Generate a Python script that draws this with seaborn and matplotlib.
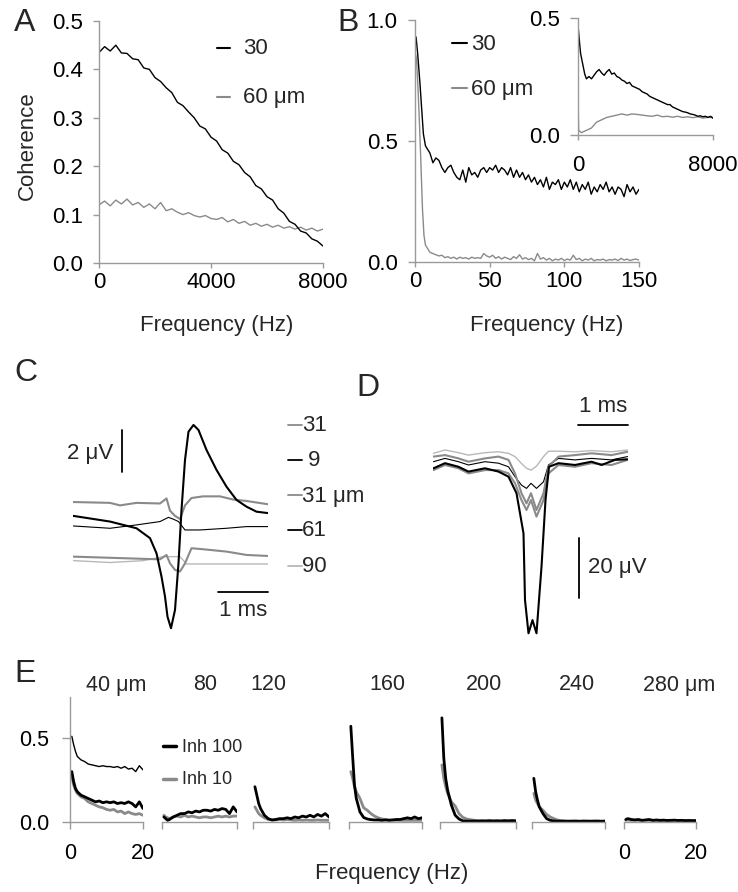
import numpy as np
import matplotlib
matplotlib.use("Agg")
import matplotlib.pyplot as plt
from matplotlib.lines import Line2D
from matplotlib.ticker import FormatStrFormatter
import seaborn as sns

sns.set_style("ticks")
plt.rcParams["font.family"] = ["Liberation Sans", "DejaVu Sans"]

# ---- data ----

# A: coherence vs frequency, 30 and 60 um
a_freq = np.arange(0, 8001, 200)
a_30 = [0.435, 0.447, 0.438, 0.45, 0.434, 0.433, 0.422, 0.42, 0.403, 0.4,
        0.383, 0.375, 0.362, 0.352, 0.332, 0.325, 0.312, 0.3, 0.283, 0.277,
        0.26, 0.252, 0.234, 0.227, 0.21, 0.203, 0.187, 0.178, 0.16, 0.153,
        0.137, 0.13, 0.112, 0.103, 0.086, 0.08, 0.066, 0.062, 0.05, 0.045, 0.035]
a_60 = [0.12, 0.128, 0.118, 0.13, 0.122, 0.132, 0.12, 0.125, 0.115, 0.122,
        0.112, 0.125, 0.108, 0.112, 0.105, 0.1, 0.104, 0.098, 0.095, 0.098,
        0.092, 0.09, 0.094, 0.085, 0.09, 0.082, 0.086, 0.078, 0.082, 0.076,
        0.08, 0.074, 0.078, 0.072, 0.075, 0.07, 0.074, 0.068, 0.072, 0.066, 0.07]

# B: low-frequency coherence
b_freq_30 = [0.7, 1.8, 3.3, 4.5, 5.6, 7] + list(range(10, 151, 2))
b_30 = [0.93, 0.86, 0.74, 0.63, 0.53, 0.48,
        0.45, 0.41, 0.43, 0.42, 0.39, 0.37, 0.39, 0.40, 0.37, 0.35,
        0.34, 0.38, 0.33, 0.39, 0.36, 0.37, 0.35, 0.38, 0.39, 0.37,
        0.39, 0.38, 0.40, 0.37, 0.39, 0.38, 0.36, 0.39, 0.35, 0.38,
        0.35, 0.37, 0.34, 0.36, 0.33, 0.35, 0.32, 0.34, 0.31, 0.35,
        0.30, 0.33, 0.32, 0.34, 0.30, 0.33, 0.31, 0.34, 0.30, 0.33,
        0.29, 0.32, 0.30, 0.33, 0.28, 0.31, 0.29, 0.32, 0.30, 0.33,
        0.29, 0.31, 0.28, 0.31, 0.30, 0.27, 0.32, 0.29, 0.31, 0.28, 0.30]
b_freq_60 = [0.3, 1, 2, 3, 4, 5, 6, 7, 8] + list(range(10, 151, 2))
b_60 = [0.86, 0.84, 0.72, 0.57, 0.4, 0.22, 0.11, 0.07, 0.06,
        0.04, 0.035, 0.03, 0.025, 0.028, 0.018, 0.022, 0.015, 0.02, 0.012,
        0.02, 0.015, 0.018, 0.012, 0.02, 0.015, 0.018, 0.015, 0.035, 0.025,
        0.02, 0.028, 0.015, 0.022, 0.012, 0.02, 0.015, 0.01, 0.022, 0.015,
        0.03, 0.012, 0.018, 0.01, 0.015, 0.005, 0.035, 0.012, 0.018, 0.008,
        0.015, 0.005, 0.012, 0.008, 0.015, 0.006, 0.012, 0.008, 0.028, 0.01,
        0.015, 0.005, 0.012, 0.008, 0.015, 0.005, 0.01, 0.008, 0.012, 0.005,
        0.01, 0.008, 0.012, 0.006, 0.015, 0.008, 0.012, 0.006, 0.01, 0.012, 0.008]

# B inset: full band
inset_freq_30 = [0, 60, 150, 260, 400, 500] + list(range(650, 8001, 150))
inset_30 = [0.47, 0.42, 0.35, 0.31, 0.26, 0.24,
            0.25, 0.24, 0.255, 0.27, 0.28, 0.265, 0.255, 0.27, 0.28, 0.26,
            0.265, 0.25, 0.245, 0.235, 0.23, 0.22, 0.225, 0.21, 0.205, 0.2,
            0.195, 0.185, 0.18, 0.175, 0.165, 0.16, 0.155, 0.15, 0.145, 0.14,
            0.135, 0.13, 0.13, 0.12, 0.115, 0.11, 0.105, 0.1, 0.098, 0.095,
            0.09, 0.088, 0.085, 0.08, 0.082, 0.078, 0.08, 0.075, 0.08, 0.072]
inset_freq_60 = [0, 40, 200, 500, 800] + list(range(1100, 8001, 300))
inset_60 = [0.15, 0.02, 0.01, 0.02, 0.03,
            0.055, 0.065, 0.075, 0.08, 0.085, 0.09, 0.085, 0.09, 0.088, 0.085,
            0.082, 0.08, 0.085, 0.078, 0.08, 0.076, 0.08, 0.075, 0.078, 0.074,
            0.078, 0.072, 0.076, 0.074]

# C: spike-triggered averages (ms, uV) at five distances
c_labels = ["31", " 9", "31 \u03bcm", "61", "90"]
c_t_9 = [0.006, 0.74, 1.27, 1.54, 1.67, 1.77, 1.84, 1.89, 1.96, 2.04, 2.11,
         2.17, 2.24, 2.31, 2.41, 2.51, 2.67, 2.87, 3.07, 3.27, 3.47, 3.67, 3.91]
c_v_9 = [0.05, -0.22, -0.54, -1.01, -1.73, -2.84, -3.79, -4.75, -5.30, -4.43, -2.20,
         0.33, 2.71, 4.06, 4.38, 4.14, 3.19, 2.24, 1.44, 0.81, 0.49, 0.25, 0.18]
c_t_31a = [0.006, 0.74, 0.94, 1.27, 1.74, 1.87, 1.94, 2.04, 2.14, 2.24, 2.37,
           2.6, 2.94, 3.2, 3.47, 3.91]
c_v_31a = [0.71, 0.67, 0.55, 0.67, 0.64, 0.88, 0.3, 0.05, -0.1, 0.55, 0.9,
           0.98, 0.98, 0.83, 0.76, 0.6]
c_t_61 = [0.006, 0.74, 1.27, 1.74, 1.91, 2.01, 2.11, 2.24, 2.54, 3.07, 3.47, 3.91]
c_v_61 = [-0.43, -0.54, -0.38, -0.22, -0.02, -0.11, -0.22, -0.62, -0.62, -0.54, -0.46, -0.46]
c_t_31b = [0.006, 1.07, 1.74, 1.87, 1.94, 2.04, 2.14, 2.24, 2.37, 2.61, 3.07, 3.47, 3.91]
c_v_31b = [-1.89, -1.97, -2.02, -1.81, -2.21, -2.52, -2.6, -2.21, -1.49, -1.54, -1.65, -1.81, -1.86]
c_t_90 = [0.006, 0.74, 1.41, 1.81, 2.14, 2.27, 2.74, 3.91]
c_v_90 = [-2.08, -2.17, -2.08, -1.89, -1.89, -2.24, -2.24, -2.24]

# D: extracellular spikes (ms, uV)
d_t_big = [0.01, 0.24, 0.51, 0.71, 1.04, 1.31, 1.51, 1.67, 1.81, 1.84, 1.91,
           1.99, 2.07, 2.17, 2.25, 2.32, 2.51, 2.84, 3.17, 3.37, 3.64, 3.89]
d_v_big = [-0.1, 1.6, 0.4, -1.2, -0.1, -1.2, -2.9, -8.4, -21.8, -44, -55.1,
           -50.7, -55.1, -32.9, -10.7, 0.4, 1.6, 1.0, 2.1, 1.0, 2.7, 2.9]
d_t = [0.01, 0.24, 0.51, 0.71, 1.04, 1.31, 1.51, 1.64, 1.77, 1.87, 1.96,
       2.07, 2.21, 2.31, 2.51, 2.84, 3.17, 3.57, 3.89]
d_v_gray1 = [-0.7, 1.0, -0.1, -1.8, -0.7, -0.7, -1.8, -5.1, -10.7, -14, -10.7,
             -16.2, -10.7, -1.8, 1.0, 0.4, 1.6, 1.0, 2.7]
d_v_gray2 = [3.8, 4.3, 3.2, 2.1, 3.2, 3.8, 2.7, -1.8, -8.4, -11.8, -8.4,
             -14, -8.4, 0.4, 3.8, 4.3, 4.9, 4.3, 5.4]
d_v_thin = [2.1, 3.2, 2.1, 1.0, 2.1, 1.6, 0.4, -2.9, -5.7, -6.8, -5.1,
            -6.8, -4.6, 1.0, 3.2, 2.7, 3.2, 2.7, 3.8]
d_v_light = [4.9, 6, 5.1, 4.3, 5.1, 5.4, 4.9, 3.8, 1.5, -0.1, -0.7,
             0.6, 3.8, 5.6, 5.6, 5.4, 5.8, 5.4, 6]

# E: coherence vs distance, Inh 100 / Inh 10
e_titles = ["40 \u03bcm", "80", "120", "160", "200", "240", "280 \u03bcm"]
e_freq = [0.5, 1, 1.5, 2, 3, 4, 5, 6, 7, 8, 9, 10, 11, 12, 13, 14, 15, 16, 17, 18, 19, 20]
e_thin_40 = [0.51, 0.46, 0.42, 0.39, 0.37, 0.36, 0.345, 0.34, 0.335, 0.33, 0.335,
             0.33, 0.33, 0.325, 0.33, 0.32, 0.33, 0.315, 0.32, 0.30, 0.335, 0.31]
e_inh100 = [
    [0.3, 0.24, 0.2, 0.18, 0.16, 0.15, 0.14, 0.13, 0.12, 0.125, 0.115,
     0.12, 0.115, 0.12, 0.11, 0.115, 0.11, 0.12, 0.11, 0.09, 0.12, 0.08],
    [0.03, 0.02, 0.01, 0.015, 0.03, 0.04, 0.05, 0.05, 0.06, 0.055, 0.065,
     0.06, 0.07, 0.07, 0.065, 0.075, 0.07, 0.08, 0.075, 0.05, 0.09, 0.06],
    [0.21, 0.16, 0.11, 0.08, 0.04, 0.02, 0.012, 0.015, 0.02, 0.02, 0.025,
     0.02, 0.03, 0.025, 0.035, 0.03, 0.04, 0.03, 0.045, 0.035, 0.05, 0.03],
    [0.57, 0.39, 0.22, 0.14, 0.06, 0.027, 0.018, 0.014, 0.012, 0.012, 0.01,
     0.012, 0.01, 0.012, 0.015, 0.015, 0.02, 0.025, 0.02, 0.03, 0.02, 0.025],
    [0.62, 0.38, 0.26, 0.19, 0.1, 0.04, 0.018, 0.007, 0.005, 0.005, 0.006,
     0.005, 0.006, 0.005, 0.007, 0.005, 0.006, 0.005, 0.007, 0.006, 0.008, 0.006],
    [0.26, 0.18, 0.13, 0.09, 0.05, 0.02, 0.01, 0.006, 0.005, 0.005, 0.005,
     0.004, 0.005, 0.005, 0.004, 0.005, 0.005, 0.004, 0.005, 0.005, 0.004, 0.005],
    [0.015, 0.02, 0.018, 0.015, 0.012, 0.015, 0.01, 0.012, 0.015, 0.01, 0.012,
     0.01, 0.011, 0.009, 0.01, 0.011, 0.009, 0.01, 0.008, 0.009, 0.008, 0.008],
]
e_inh10 = [
    [0.27, 0.22, 0.19, 0.17, 0.15, 0.14, 0.12, 0.11, 0.1, 0.09, 0.085,
     0.075, 0.07, 0.075, 0.06, 0.065, 0.05, 0.06, 0.05, 0.045, 0.05, 0.04],
    [0.04, 0.03, 0.025, 0.02, 0.03, 0.035, 0.03, 0.04, 0.03, 0.035, 0.03,
     0.025, 0.03, 0.03, 0.025, 0.03, 0.035, 0.03, 0.035, 0.03, 0.035, 0.035],
    [0.09, 0.07, 0.05, 0.04, 0.025, 0.015, 0.012, 0.012, 0.015, 0.012, 0.015,
     0.012, 0.01, 0.012, 0.01, 0.012, 0.01, 0.01, 0.012, 0.01, 0.01, 0.01],
    [0.3, 0.26, 0.21, 0.18, 0.14, 0.085, 0.07, 0.05, 0.035, 0.025, 0.018,
     0.015, 0.012, 0.012, 0.01, 0.01, 0.01, 0.01, 0.01, 0.01, 0.01, 0.01],
    [0.34, 0.26, 0.21, 0.17, 0.12, 0.095, 0.05, 0.028, 0.018, 0.014, 0.01,
     0.008, 0.008, 0.009, 0.008, 0.008, 0.009, 0.008, 0.01, 0.008, 0.009, 0.008],
    [0.17, 0.13, 0.11, 0.09, 0.07, 0.045, 0.03, 0.02, 0.012, 0.008, 0.006,
     0.006, 0.005, 0.006, 0.005, 0.006, 0.005, 0.006, 0.005, 0.006, 0.005, 0.006],
    [0.01, 0.012, 0.011, 0.01, 0.012, 0.01, 0.009, 0.011, 0.01, 0.009, 0.01,
     0.008, 0.01, 0.009, 0.008, 0.01, 0.009, 0.008, 0.009, 0.008, 0.009, 0.008],
]

# ---- styles ----
BLACK = "black"
GRAY = "#8a8a8a"
LIGHT = "#b8b8b8"
AXC = "#9a9a9a"
FS = 16

W, H = 738, 892
fig = plt.figure(figsize=(W / 100, H / 100), dpi=100)


def frame(x0, y0, x1, y1):
    return fig.add_axes([x0 / W, 1 - y1 / H, (x1 - x0) / W, (y1 - y0) / H])


def ftext(px, py, s, **kw):
    kw.setdefault("fontsize", FS)
    kw.setdefault("va", "center")
    fig.text(px / W, 1 - py / H, s, **kw)


def fdash(x0, x1, py, color, lw=1.5):
    fig.add_artist(Line2D([x0 / W, x1 / W], [1 - py / H] * 2, color=color, lw=lw))


def trace(ax, x, y, color, lw):
    sns.lineplot(x=np.asarray(x, float), y=np.asarray(y, float), ax=ax, color=color,
                 linewidth=lw, estimator=None, sort=False, legend=False)


def style_axes(ax, ylen=4.3, xlen=3.6, ypad=7, xpad=3.2, fs=FS):
    sns.despine(ax=ax)
    for s in ("left", "bottom"):
        ax.spines[s].set_color(AXC)
        ax.spines[s].set_linewidth(1.0)
    ax.tick_params(axis="y", colors=AXC, labelcolor="black", labelsize=fs,
                   length=ylen, width=1, pad=ypad)
    ax.tick_params(axis="x", colors=AXC, labelcolor="black", labelsize=fs,
                   length=xlen, width=1, pad=xpad)
    ax.set_xlabel("")
    ax.set_ylabel("")


# ---- panel A ----
axA = frame(99, 21, 323, 263)
trace(axA, a_freq, a_60, GRAY, 1.0)
trace(axA, a_freq, a_30, BLACK, 1.0)
axA.set_xlim(0, 8000)
axA.set_ylim(0, 0.5)
axA.set_xticks([0, 4000, 8000])
axA.set_yticks([0, 0.1, 0.2, 0.3, 0.4, 0.5])
axA.yaxis.set_major_formatter(FormatStrFormatter("%.1f"))
style_axes(axA)
ftext(217, 326, "Frequency (Hz)", ha="center")
ftext(27, 146, "Coherence", ha="center", rotation=90)
fdash(217, 230, 48, BLACK)
ftext(243, 49, "30")
fdash(217, 230, 97, GRAY)
ftext(243, 98, "60 \u03bcm")

# ---- panel B ----
axB = frame(415, 20, 639, 262)
trace(axB, b_freq_60, b_60, GRAY, 1.0)
trace(axB, b_freq_30, b_30, BLACK, 1.0)
axB.set_xlim(0, 150)
axB.set_ylim(0, 1.0)
axB.set_xticks([0, 50, 100, 150])
axB.set_yticks([0, 0.5, 1.0])
axB.yaxis.set_major_formatter(FormatStrFormatter("%.1f"))
style_axes(axB, ylen=5, ypad=7.5)
ftext(547, 326, "Frequency (Hz)", ha="center")
fdash(452, 467, 43, BLACK)
ftext(471, 44, "30")
fdash(452, 467, 88, GRAY)
ftext(471, 89, "60 \u03bcm")

axI = frame(578, 18, 713, 135)
trace(axI, inset_freq_60, inset_60, GRAY, 1.0)
trace(axI, inset_freq_30, inset_30, BLACK, 1.0)
axI.set_xlim(0, 8000)
axI.set_ylim(0, 0.5)
axI.set_xticks([0, 8000])
axI.set_yticks([0, 0.5])
axI.yaxis.set_major_formatter(FormatStrFormatter("%.1f"))
style_axes(axI, ylen=5.8, xlen=3.6, ypad=7.5, xpad=11)

# ---- panel C ----
axC = frame(73, 405, 268, 640)
trace(axC, c_t_90, c_v_90, LIGHT, 1.0)
trace(axC, c_t_61, c_v_61, BLACK, 0.8)
trace(axC, c_t_31b, c_v_31b, GRAY, 1.5)
trace(axC, c_t_31a, c_v_31a, GRAY, 1.5)
trace(axC, c_t_9, c_v_9, BLACK, 1.5)
axC.set_xlim(0, 3.9)
axC.set_ylim(-5.86, 5.33)
axC.axis("off")
axC.plot([0.98, 0.98], [2.14, 4.14], color=BLACK, lw=1.3, clip_on=False)
axC.plot([2.9, 3.9], [-3.57, -3.57], color=BLACK, lw=1.3, clip_on=False)
ftext(113, 454, "2 \u03bcV", ha="right")
ftext(243, 611, "1 ms", ha="center")
c_label_y = [425, 460, 495, 530, 566]
c_label_col = [GRAY, BLACK, GRAY, BLACK, LIGHT]
for lab, ly, lc in zip(c_labels, c_label_y, c_label_col):
    fdash(288, 302, ly, lc, 1.3)
    ftext(302, ly + 1, lab)

# ---- panel D ----
axD = frame(433, 395, 628, 645)
trace(axD, d_t, d_v_light, LIGHT, 1.0)
trace(axD, d_t, d_v_thin, BLACK, 0.8)
trace(axD, d_t, d_v_gray2, GRAY, 1.5)
trace(axD, d_t, d_v_gray1, GRAY, 1.5)
trace(axD, d_t_big, d_v_big, BLACK, 1.5)
axD.set_xlim(0, 3.9)
axD.set_ylim(-59, 24.33)
axD.axis("off")
axD.plot([2.9, 3.9], [14.33, 14.33], color=BLACK, lw=1.3, clip_on=False)
axD.plot([2.92, 2.92], [-23.3, -43.3], color=BLACK, lw=1.3, clip_on=False)
ftext(603, 407, "1 ms", ha="center")
ftext(588, 568, "20 \u03bcV", ha="left")

# ---- panel E ----
e_boxes = [(70, 143), (162, 237), (253, 329), (349, 422), (440, 516), (532, 605), (624, 696)]
e_title_x = [116, 205, 268, 387, 484, 577, 679]
for i, (x0, x1) in enumerate(e_boxes):
    ax = frame(x0, 697, x1, 822)
    if i == 0:
        trace(ax, e_freq, e_thin_40, BLACK, 1.0)
    trace(ax, e_freq, e_inh10[i], GRAY, 2.0)
    trace(ax, e_freq, e_inh100[i], BLACK, 2.0)
    ax.set_xlim(0, 20)
    ax.set_ylim(0, 0.744)
    ax.set_xticks([0, 20])
    style_axes(ax, ylen=5.8, xlen=5, ypad=9, xpad=10, fs=15.5)
    if i == 0:
        ax.set_yticks([0, 0.5])
        ax.yaxis.set_major_formatter(FormatStrFormatter("%.1f"))
    else:
        ax.spines["left"].set_visible(False)
        ax.set_yticks([])
    if i not in (0, len(e_boxes) - 1):
        ax.set_xticklabels([])
    ftext(e_title_x[i], 685, e_titles[i], ha="center", fontsize=15.5)
fdash(163, 176, 746, BLACK, 2.5)
ftext(182, 747, "Inh 100", fontsize=13)
fdash(163, 176, 779, GRAY, 2.5)
ftext(182, 780, "Inh 10", fontsize=13)
ftext(392, 874, "Frequency (Hz)", ha="center")

# panel letters
for letter, lx, ly in [("A", 25, 23), ("B", 348, 23), ("C", 26, 373), ("D", 368, 388), ("E", 25, 674)]:
    ftext(lx, ly, letter, ha="center", fontsize=23)

fig.savefig("out.png", dpi=100)
